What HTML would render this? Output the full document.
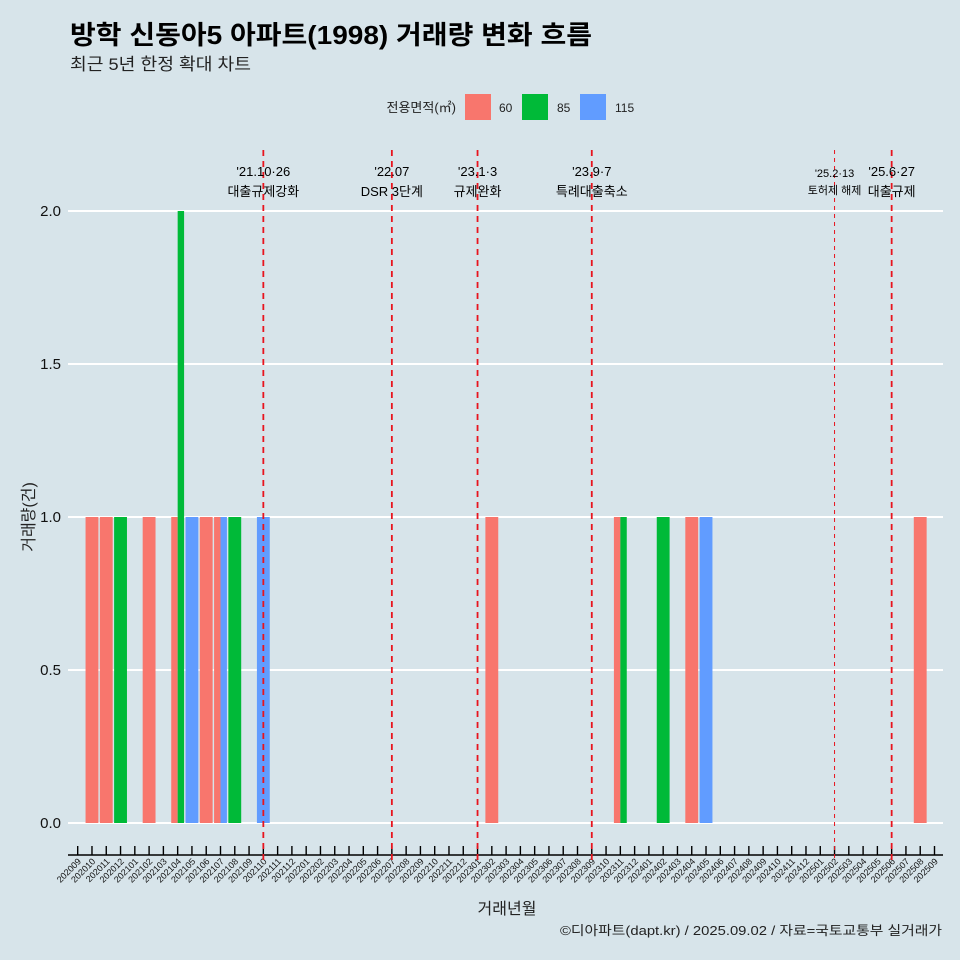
<!DOCTYPE html>
<html><head><meta charset="utf-8">
<style>
html,body{margin:0;padding:0;background:#d7e4ea;}
svg{display:block;font-family:"Liberation Sans","Noto Sans CJK KR",sans-serif;}
</style></head>
<body>
<svg id="chart" width="960" height="960" viewBox="0 0 960 960">
<rect x="0" y="0" width="960" height="960" fill="#d7e4ea"/>
<text x="70" y="44" font-size="26" font-weight="bold" fill="#000" textLength="522" lengthAdjust="spacingAndGlyphs">방학 신동아5 아파트(1998) 거래량 변화 흐름</text>
<text x="70" y="70" font-size="17" fill="#222" textLength="181" lengthAdjust="spacingAndGlyphs">최근 5년 한정 확대 차트</text>
<g>
<text x="456" y="112" font-size="13" text-anchor="end" fill="#222">전용면적(㎡)</text>
<rect x="465" y="94" width="26" height="26" fill="#f8766d"/>
<text x="499" y="112" font-size="12" fill="#222">60</text>
<rect x="522" y="94" width="26" height="26" fill="#00ba38"/>
<text x="557" y="112" font-size="12" fill="#222">85</text>
<rect x="580" y="94" width="26" height="26" fill="#619cff"/>
<text x="615" y="112" font-size="12" fill="#222">115</text>
</g>
<g id="plot"></g>
<text x="507" y="914" font-size="16" text-anchor="middle" fill="#222">거래년월</text>
<text transform="translate(34,517) rotate(-90)" font-size="16" text-anchor="middle" fill="#222">거래량(건)</text>
<text x="942" y="935" font-size="13" text-anchor="end" fill="#222" textLength="382" lengthAdjust="spacingAndGlyphs">©디아파트(dapt.kr) / 2025.09.02 / 자료=국토교통부 실거래가</text>
</svg>
<script>
const months = [];
for (let y = 2020, m = 9; y < 2025 || (y === 2025 && m <= 9); ) {
  months.push(String(y) + String(m).padStart(2, '0'));
  m++; if (m > 12) { m = 1; y++; }
}
const sizes = ['60', '85', '115'];
const colors = {'60': '#f8766d', '85': '#00ba38', '115': '#619cff'};
const barMonths = ['202010','202011','202012','202102','202104','202104','202105','202106','202107','202107','202108','202110','202302','202311','202311','202402','202404','202405','202508'];
const barSizes  = ['60','60','85','60','60','85','115','60','60','115','85','115','60','60','85','85','60','115','60'];
const barValues = [1,1,1,1,1,2,1,1,1,1,1,1,1,1,1,1,1,1,1];
const yTicks = [0, 0.5, 1.0, 1.5, 2.0];
const yTickLabels = ['0.0','0.5','1.0','1.5','2.0'];
const eventMonths = ['202110','202207','202301','202309','202502','202506'];
const eventLine1 = ["'21.10·26","'22.07","'23.1·3","'23.9·7","'25.2·13","'25.6·27"];
const eventLine2 = ['대출규제강화','DSR 3단계','규제완화','특례대출축소','토허제 해제','대출규제'];

const NS = 'http://www.w3.org/2000/svg';
const plot = document.getElementById('plot');
const x0 = 77.7, step = 14.28;
const xScale = m => x0 + months.indexOf(m) * step;
const yScale = v => 823 - v * 306;
function mk(tag, attrs) { const e = document.createElementNS(NS, tag); for (const k in attrs) e.setAttribute(k, attrs[k]); plot.appendChild(e); return e; }

yTicks.forEach((t, i) => {
  const g = mk('line', {x1: 68, x2: 943, y1: yScale(t), y2: yScale(t), stroke: '#fff', 'stroke-width': 2});
  
  
  const l = mk('text', {x: 61, y: yScale(t) + 5, 'font-size': 15, 'text-anchor': 'end', fill: '#111'});
  l.textContent = yTickLabels[i];
  
  
});

const fullW = step * 0.9;
barMonths.forEach((m, i) => {
  const group = [];
  barMonths.forEach((mm, j) => { if (mm === m) group.push(j); });
  const n = group.length, k = group.indexOf(i);
  const w = fullW / n;
  const left = xScale(m) - fullW / 2 + k * w;
  const r = mk('rect', {x: left, y: yScale(barValues[i]), width: w, height: yScale(0) - yScale(barValues[i]), fill: colors[barSizes[i]]});
  
  
});

const ax = mk('line', {x1: 68, x2: 943, y1: 855, y2: 855, stroke: '#000', 'stroke-width': 1.5});


months.forEach(m => {
  const x = xScale(m);
  const t = mk('line', {x1: x, x2: x, y1: 846, y2: 855, stroke: '#000', 'stroke-width': 1.4});
  
  
  const l = mk('text', {transform: `translate(${x + 4},${862}) rotate(-45)`, 'font-size': 9, 'text-anchor': 'end', fill: '#111'});
  l.textContent = m;
  
  
});

eventMonths.forEach((m, i) => {
  const x = xScale(m);
  const thin = m === '202502';
  const ln = mk('line', {x1: x, x2: x, y1: 150, y2: 862, stroke: '#e8141e', 'stroke-width': thin ? 1 : 1.8, 'stroke-dasharray': thin ? '4,4' : '6,5'});
  
  
  const fs = thin ? 11 : 13;
  const t1 = mk('text', {x: x, y: thin ? 177 : 176, 'font-size': fs, 'text-anchor': 'middle', fill: '#000'});
  t1.textContent = eventLine1[i];
  
  
  const t2 = mk('text', {x: x, y: thin ? 194 : 196, 'font-size': fs, 'text-anchor': 'middle', fill: '#000'});
  t2.textContent = eventLine2[i];
  
  
});
</script>
</body></html>
